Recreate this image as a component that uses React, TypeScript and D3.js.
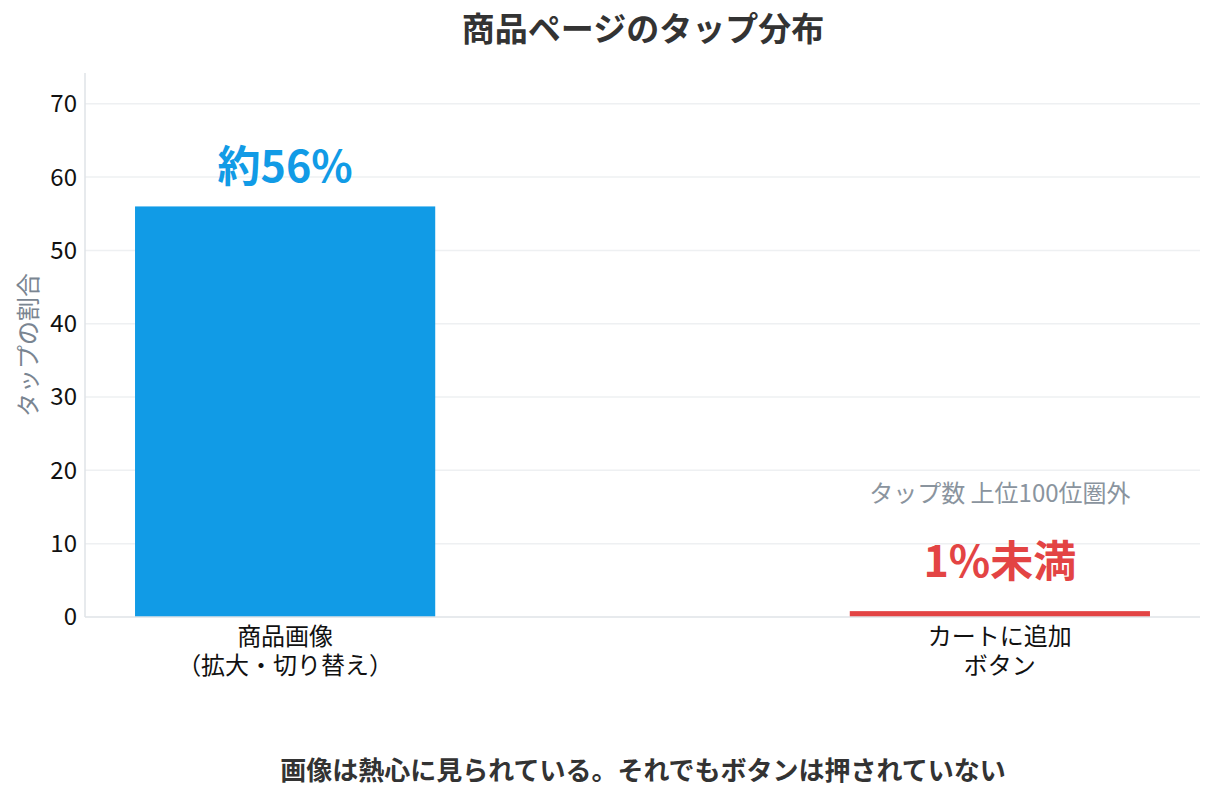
import * as d3 from "d3";

const categories = ["商品画像\n（拡大・切り替え）", "カートに追加\nボタン"];
const values = [56, 0.8];
const valueLabels = ["約56%", "1%未満"];
const barColors = ["#119be6", "#e34444"];
const yTicks = [0, 10, 20, 30, 40, 50, 60, 70];
const noteText = "タップ数 上位100位圏外";
const titleText = "商品ページのタップ分布";
const yLabelText = "タップの割合";
const captionText = "画像は熱心に見られている。それでもボタンは押されていない";

const FONT = "'Noto Sans CJK JP', 'Noto Sans', sans-serif";

export default function App() {
  const w = 1215,
    h = 801,
    m = { top: 73, right: 15, bottom: 184, left: 85 };

  const x = d3
    .scaleLinear()
    .domain([-0.28, 1.28])
    .range([m.left, w - m.right]);
  const y = d3
    .scaleLinear()
    .domain([0, 74.2])
    .range([h - m.bottom, m.top]);
  const barW = x(0.42) - x(0);

  return (
    <svg
      width={w}
      height={h}
      style={{ position: "absolute", left: 0, top: 0, fontFamily: FONT }}
    >
      <rect width={w} height={h} fill="#fff" />
      {/* title */}
      <text
        x={643}
        y={41}
        textAnchor="middle"
        fontSize={33}
        fontWeight="bold"
        fill="#333"
      >
        {titleText}
      </text>

      {/* grid + y ticks */}
      {yTicks.map((t) => (
        <g key={t}>
          {t > 0 && (
            <line
              x1={m.left}
              x2={w - m.right}
              y1={y(t)}
              y2={y(t)}
              stroke="#eef0f2"
              strokeWidth={1.5}
            />
          )}
          <text
            x={m.left - 8}
            y={y(t)}
            dy="0.35em"
            textAnchor="end"
            fontSize={24}
            fill="#111"
          >
            {t}
          </text>
        </g>
      ))}

      {/* bars */}
      {values.map((v, i) => (
        <rect
          key={i}
          x={x(i) - barW / 2}
          y={y(v)}
          width={barW}
          height={y(0) - y(v)}
          fill={barColors[i]}
        />
      ))}

      {/* axes */}
      <line
        x1={m.left}
        x2={m.left}
        y1={m.top}
        y2={y(0)}
        stroke="#dfe3e7"
        strokeWidth={1.5}
      />
      <line
        x1={m.left}
        x2={w - m.right}
        y1={y(0)}
        y2={y(0)}
        stroke="#dfe3e7"
        strokeWidth={1.5}
      />

      {/* value labels */}
      <text
        x={x(0)}
        y={y(values[0]) - 24}
        textAnchor="middle"
        fontSize={43}
        fontWeight="bold"
        fill={barColors[0]}
      >
        {valueLabels[0]}
      </text>
      <text
        x={x(1)}
        y={y(0) - 40}
        textAnchor="middle"
        fontSize={43}
        fontWeight="bold"
        fill={barColors[1]}
      >
        {valueLabels[1]}
      </text>
      <text
        x={x(1)}
        y={y(0) - 115}
        textAnchor="middle"
        fontSize={24}
        fill="#8a949e"
      >
        {noteText}
      </text>

      {/* category labels */}
      {categories.map((c, i) => (
        <text
          key={i}
          x={x(i)}
          y={y(0) + 28}
          textAnchor="middle"
          fontSize={24}
          fill="#111"
        >
          {c.split("\n").map((line, j) => (
            <tspan key={j} x={x(i)} dy={j === 0 ? 0 : 29}>
              {line}
            </tspan>
          ))}
        </text>
      ))}

      {/* y label */}
      <text
        transform={`translate(37,${(m.top + y(0)) / 2}) rotate(-90)`}
        textAnchor="middle"
        fontSize={24}
        fill="#7a8591"
      >
        {yLabelText}
      </text>

      {/* caption */}
      <text
        x={643}
        y={780}
        textAnchor="middle"
        fontSize={26}
        fontWeight="bold"
        fill="#333"
      >
        {captionText}
      </text>
    </svg>
  );
}
